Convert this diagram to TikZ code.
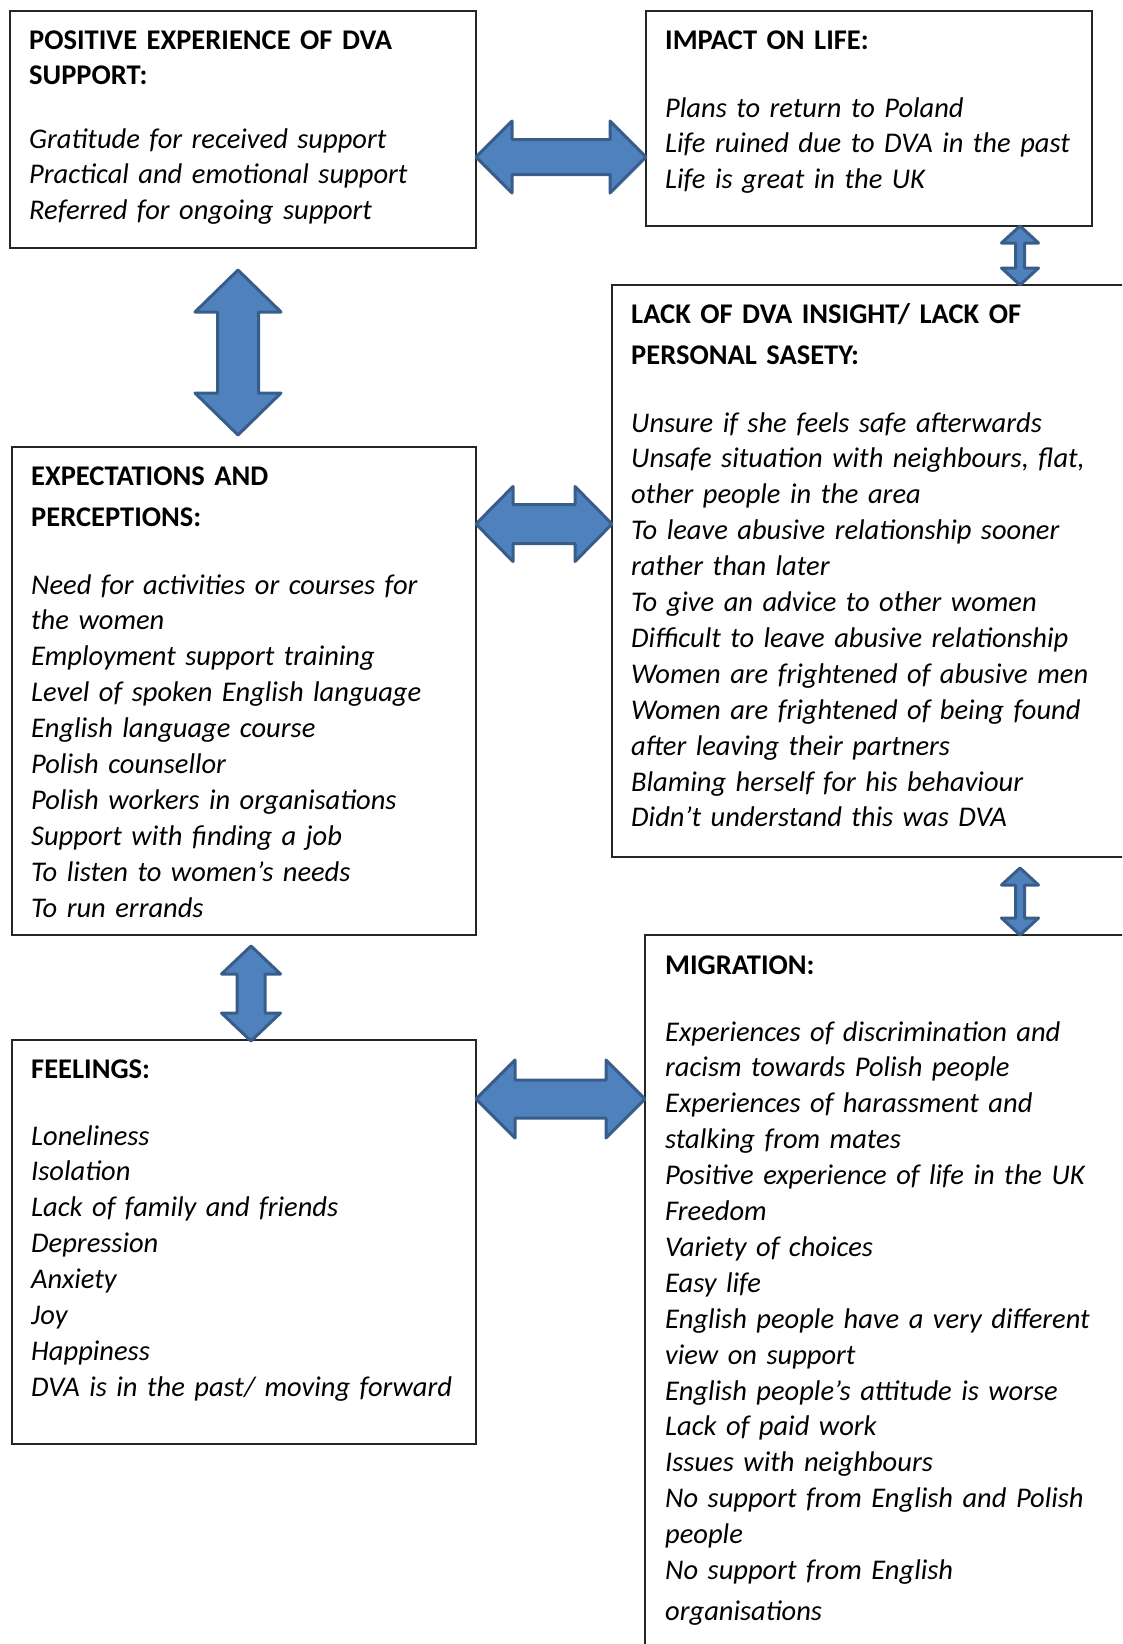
\documentclass[tikz,border=0pt]{standalone}
\usepackage{fontspec}
\setmainfont{Carlito}
\usetikzlibrary{calc}
\definecolor{arrowfill}{HTML}{4F81BD}
\definecolor{arrowline}{HTML}{385D8A}
\tikzset{
 box/.style={draw=black!85, line width=1.3pt, inner sep=0, outer sep=0, anchor=north west},
 head/.style={anchor=base west, inner sep=0, align=left, text width=480pt, font=\bfseries\fontsize{28.5}{41}\selectfont},
 list/.style={anchor=base west, inner sep=0, align=left, text width=480pt, font=\itshape\fontsize{28.5}{35.9}\selectfont},
 barrow/.style={fill=arrowfill, draw=arrowline, line width=3pt, line join=round},
}
% #1 start, #2 end, #3 half shaft, #4 half head, #5 head length
\newcommand{\blockarrow}[5]{
 \coordinate (ba-p) at ($(#1)!#5!(#2)$);
 \coordinate (ba-q) at ($(#2)!#5!(#1)$);
 \draw[barrow] (#1) -- ($(ba-p)!#4!90:(#2)$) -- ($(ba-p)!#3!90:(#2)$)
  -- ($(ba-q)!#3!90:(#2)$) -- ($(ba-q)!#4!90:(#2)$) -- (#2)
  -- ($(ba-q)!#4!-90:(#2)$) -- ($(ba-q)!#3!-90:(#2)$)
  -- ($(ba-p)!#3!-90:(#2)$) -- ($(ba-p)!#4!-90:(#2)$) -- cycle;
}

\begin{document}
\begin{tikzpicture}[x=1pt,y=-1pt]
\useasboundingbox (0,0) rectangle (1122,1644);
\clip (0,0) rectangle (1122,1644);

% boxes
\node[box, minimum width=466, minimum height=237] (pos) at (10,11) {};
\node[box, minimum width=446, minimum height=215] (impact) at (646,11) {};
\node[box, minimum width=540, minimum height=572] (insight) at (612,285) {};
\node[box, minimum width=464, minimum height=488] (expect) at (12,447) {};
\node[box, minimum width=464, minimum height=404] (feel) at (12,1040) {};
\node[box, minimum width=510, minimum height=780] (migr) at (645,935) {};

% texts
\node[head, font=\bfseries\fontsize{28.5}{35}\selectfont] (pos-head) at (29,49) {POSITIVE EXPERIENCE OF DVA\\SUPPORT:};
\node[list] (pos-list) at (29,148) {Gratitude for received support\\Practical and emotional support\\Referred for ongoing support};

\node[head] (impact-head) at (665,49) {IMPACT ON LIFE:};
\node[list] (impact-list) at (665,117) {Plans to return to Poland\\Life ruined due to DVA in the past\\Life is great in the UK};

\node[head] (insight-head) at (631,323) {LACK OF DVA INSIGHT/ LACK OF\\PERSONAL SASETY:};
\node[list] (insight-list) at (631,432) {Unsure if she feels safe afterwards\\Unsafe situation with neighbours, flat,\\other people in the area\\To leave abusive relationship sooner\\rather than later\\To give an advice to other women\\Difficult to leave abusive relationship\\Women are frightened of abusive men\\Women are frightened of being found\\after leaving their partners\\Blaming herself for his behaviour\\Didn’t understand this was DVA};

\node[head] (expect-head) at (31,485) {EXPECTATIONS AND\\PERCEPTIONS:};
\node[list] (expect-list) at (31,594) {Need for activities or courses for\\the women\\Employment support training\\Level of spoken English language\\English language course\\Polish counsellor\\Polish workers in organisations\\Support with finding a job\\To listen to women’s needs\\To run errands};

\node[head] (feel-head) at (31,1078) {FEELINGS:};
\node[list] (feel-list) at (31,1145) {Loneliness\\Isolation\\Lack of family and friends\\Depression\\Anxiety\\Joy\\Happiness\\DVA is in the past/ moving forward};

\node[head] (migr-head) at (665,974) {MIGRATION:};
\node[list] (migr-list) at (665,1041) {Experiences of discrimination and\\racism towards Polish people\\Experiences of harassment and\\stalking from mates\\Positive experience of life in the UK\\Freedom\\Variety of choices\\Easy life\\English people have a very different\\view on support\\English people’s attitude is worse\\Lack of paid work\\Issues with neighbours\\No support from English and Polish\\people\\No support from English\\[5pt]organisations};

% arrows
\coordinate (h1a) at (pos.east |- 0,157);
\coordinate (h1b) at (impact.west |- 0,157);
\blockarrow{h1a}{h1b}{17.5pt}{36pt}{36pt}
\coordinate (h2a) at (expect.east |- 0,524);
\coordinate (h2b) at (insight.west |- 0,524);
\blockarrow{h2a}{h2b}{19.5pt}{37.5pt}{37pt}
\coordinate (h3a) at (feel.east |- 0,1099);
\coordinate (h3b) at (migr.west |- 0,1099);
\blockarrow{h3a}{h3b}{19pt}{39pt}{39pt}
\coordinate (v1a) at (238,270);
\coordinate (v1b) at (238,435);
\blockarrow{v1a}{v1b}{20.5pt}{43pt}{42pt}
\coordinate (v2a) at (251,946);
\coordinate (v2b) at (251,1041);
\blockarrow{v2a}{v2b}{14pt}{29.5pt}{28pt}
\coordinate (v3a) at (1020,0 |- impact.south);
\coordinate (v3b) at (1020,0 |- insight.north);
\blockarrow{v3a}{v3b}{4.5pt}{18.5pt}{17pt}
\coordinate (v4a) at (1020,868);
\coordinate (v4b) at (1020,0 |- migr.north);
\blockarrow{v4a}{v4b}{4.5pt}{18.5pt}{17pt}
\end{tikzpicture}
\end{document}
